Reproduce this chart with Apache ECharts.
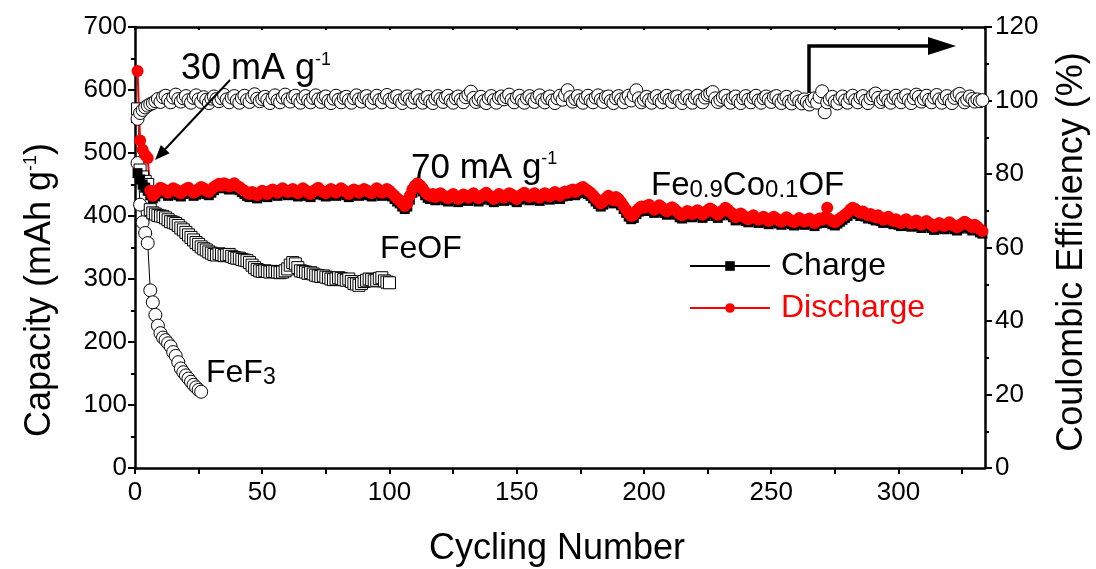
<!DOCTYPE html>
<html><head><meta charset="utf-8">
<script src="https://cdn.jsdelivr.net/npm/echarts@6/dist/echarts.min.js"></script>
<style>html,body{margin:0;padding:0;background:#fff}#c{width:1096px;height:569px}</style>
</head><body><div id="c"></div>
<script>
// Fe0.9Co0.1OF discharge capacity (mAh/g), cycles 1..333
const discharge = [
630,520,505,497,492,440,432,436,441,445,
443,440,437,441,444,442,438,436,440,443,
445,441,437,439,443,446,444,440,438,442,
446,449,451,448,452,450,447,449,452,448,
446,443,440,437,435,438,436,433,437,440,
438,435,439,442,440,437,441,444,441,438,
440,443,439,436,440,444,441,437,435,439,
442,445,441,438,436,440,443,440,437,441,
444,441,438,435,439,442,440,437,440,443,
441,438,436,440,444,441,437,439,443,440,
436,432,428,425,420,416,420,432,442,448,
452,449,444,438,434,432,435,430,433,436,
433,430,428,432,435,431,427,430,434,432,
429,433,436,432,428,431,434,437,433,430,
427,431,435,432,429,433,436,434,430,427,
431,434,437,433,430,433,436,432,429,433,
436,434,431,435,438,435,432,436,439,437,
440,442,438,441,444,446,443,440,437,433,
428,424,420,423,428,432,429,425,430,427,
422,416,410,404,400,402,408,412,415,413,
416,418,414,410,413,417,414,410,407,411,
414,411,407,403,401,404,408,406,403,406,
409,406,402,405,409,412,409,405,402,406,
409,413,410,406,403,398,400,404,401,397,
395,398,401,397,394,396,399,395,392,396,
399,396,393,391,394,398,395,392,390,393,
397,394,391,393,396,392,389,393,396,394,
398,413,395,392,390,393,396,399,402,405,
410,413,411,408,405,407,404,401,403,400,
398,401,397,394,397,399,395,392,395,391,
389,392,395,391,388,390,393,389,386,389,
392,389,386,383,386,389,386,384,387,390,
387,384,382,385,388,391,388,385,382,386,
383,379,376
];
// Fe0.9Co0.1OF charge capacity (mAh/g), cycles 1..333
const charge = [
468,458,450,445,440,433,428,431,436,440,
439,436,432,436,440,438,433,431,435,439,
441,437,432,434,438,442,440,435,433,437,
441,445,447,444,447,446,442,444,447,444,
441,438,435,432,430,433,431,428,432,435,
433,430,434,437,435,432,436,439,436,433,
435,438,434,431,435,439,436,432,430,434,
437,440,436,433,431,435,438,435,432,436,
439,436,433,430,434,437,435,432,435,438,
436,433,431,435,439,436,432,434,438,435,
431,427,423,420,415,411,415,426,437,443,
447,444,439,433,429,427,430,425,428,431,
428,425,423,427,430,426,422,425,429,427,
424,428,431,427,423,426,429,432,428,425,
422,426,430,427,424,428,431,429,425,422,
426,429,432,428,425,428,431,427,424,428,
431,429,426,430,433,430,427,431,434,432,
435,437,433,436,439,441,438,435,432,428,
423,419,415,418,423,427,424,420,425,422,
417,411,405,399,395,397,403,407,410,408,
411,413,409,405,408,412,409,405,402,406,
409,406,402,398,396,399,403,401,398,401,
404,401,397,400,404,407,404,400,397,401,
404,408,405,401,398,393,395,399,396,392,
390,393,396,392,389,391,394,390,387,391,
394,391,388,386,389,393,390,387,385,388,
392,389,386,388,391,387,384,388,391,389,
393,396,390,387,385,388,391,394,397,400,
405,408,406,403,400,402,399,396,398,395,
393,396,392,389,392,394,390,387,390,386,
384,387,390,386,383,385,388,384,381,384,
387,384,381,378,381,384,381,379,382,385,
382,379,377,380,383,386,383,380,377,381,
378,374,372
];
// Coulombic efficiency (%), cycles 1..333
const efficiency = [
95.0,96.6,97.4,98.1,98.6,99.0,99.3,99.8,100.4,99.6,
100.9,101.3,100.2,99.5,100.8,101.6,100.4,99.7,100.6,101.2,
100.1,99.4,100.7,101.4,100.3,99.6,100.9,100.2,99.3,100.5,
101.1,100.4,99.8,100.6,101.5,100.3,99.5,100.8,101.2,100.0,
99.4,100.7,101.3,100.1,99.6,100.9,101.7,100.5,99.8,100.4,
101.0,100.2,99.3,100.6,101.4,100.0,99.5,100.8,101.6,100.3,
99.7,100.9,101.3,100.1,99.4,100.6,101.2,100.0,99.5,100.7,
101.4,100.3,99.6,100.8,101.1,99.9,99.3,100.5,101.3,100.2,
99.5,100.7,101.0,100.1,99.4,100.6,101.4,100.3,99.7,100.9,
101.2,100.0,99.4,100.6,101.3,100.1,99.5,100.8,101.5,100.2,
99.6,100.9,101.2,100.0,99.3,100.5,101.1,100.3,99.5,100.7,
101.4,100.1,99.4,100.6,101.0,99.8,99.3,100.5,101.2,100.4,
99.6,100.8,101.3,100.0,99.4,100.6,101.1,100.2,99.5,100.9,
101.6,102.4,100.7,99.6,100.3,101.0,99.8,99.3,100.6,101.2,
100.1,99.4,100.7,101.1,100.3,100.9,101.6,100.2,99.5,100.8,
101.3,100.0,99.4,100.6,101.2,100.3,99.6,100.9,101.4,100.1,
99.5,100.7,101.1,100.0,99.3,100.6,101.3,100.2,101.5,102.8,
100.9,99.7,100.4,101.2,100.1,99.4,100.7,101.3,100.0,99.5,
100.8,101.4,100.2,99.6,100.9,101.1,99.9,99.3,100.6,101.2,
100.3,99.5,100.7,101.3,100.0,101.4,102.8,100.6,99.5,100.2,
101.0,100.1,99.4,100.7,101.2,100.0,99.5,100.8,101.3,100.2,
99.6,100.9,101.1,99.9,99.3,100.6,101.2,100.1,99.4,100.7,
101.3,100.0,99.5,100.8,101.5,101.9,102.3,100.6,99.6,100.2,
100.9,101.3,100.0,99.4,100.7,101.1,99.9,99.3,100.6,101.2,
100.2,99.5,100.8,101.3,100.0,99.4,100.6,101.1,100.3,99.6,
100.9,101.2,100.0,99.3,100.5,101.0,99.7,99.2,100.4,100.9,
99.8,99.2,100.3,99.6,98.9,99.9,100.6,99.4,101.0,102.5,
96.8,99.5,100.3,101.0,99.7,99.2,100.5,101.1,100.0,99.4,
100.7,101.3,100.1,99.5,100.8,101.2,99.9,99.3,100.6,101.4,
101.9,100.7,99.6,100.3,101.1,100.0,99.4,100.7,101.3,100.2,
99.5,100.9,101.4,100.1,99.3,100.6,101.6,101.0,99.7,100.4,
101.3,100.2,99.5,100.8,101.5,100.3,99.4,100.6,101.2,100.0,
99.3,100.7,101.4,101.8,100.6,99.5,100.2,101.1,100.4,99.7,
100.3,99.8,100.1
];
// FeOF capacity (mAh/g), cycles 1..100
const feof = [
570,473,462,455,450,410,405,403,401,400,
399,397,394,391,390,388,385,381,378,374,
370,366,362,358,355,351,348,346,343,341,
339,338,340,339,337,338,339,336,334,333,
333,331,330,329,326,322,318,315,313,312,
313,312,311,312,312,311,310,311,313,316,
322,326,324,318,313,312,311,309,310,308,
306,305,304,305,303,302,300,299,300,302,
301,299,298,300,296,293,292,290,293,296,
298,300,299,297,298,301,302,297,295,294
];
// FeF3 capacity (mAh/g), cycles 1..26
const fef3 = [
484,418,390,373,357,282,263,243,226,214,
207,203,198,193,184,178,168,158,152,147,
142,137,132,128,124,121
];
const xLabelStep = 50;
const capTicks = [0, 700, 100];
const ceTicks = [0, 120, 20];

const FONT = '"Liberation Sans", Arial, Helvetica, sans-serif';
const pairs = a => a.map((v, i) => [i + 1, v]);
const chart = echarts.init(document.getElementById('c'));

const axisBase = {
  axisLine: { show: true, onZero: false, lineStyle: { color: '#000', width: 2.5 } },
  splitLine: { show: false },
  axisLabel: { color: '#000', fontSize: 26, fontFamily: FONT },
};

const annoText = (x, y, text, rich, extra) => Object.assign({
  type: 'text', x: x, y: y, z: 100,
  style: { text: text, rich: rich, fill: '#000', font: '36px ' + FONT, align: 'left', verticalAlign: 'middle' }
}, extra || {});

function arrow(x1, y1, x2, y2, hl, hw, lw) {
  const dx = x2 - x1, dy = y2 - y1, L = Math.hypot(dx, dy);
  const ux = dx / L, uy = dy / L, nx = -uy, ny = ux;
  const bx = x2 - ux * hl, by = y2 - uy * hl;
  return [
    { type: 'line', z: 100, shape: { x1: x1, y1: y1, x2: bx + ux * 2, y2: by + uy * 2 }, style: { stroke: '#000', lineWidth: lw } },
    { type: 'polygon', z: 100, shape: { points: [[x2, y2], [bx + nx * hw, by + ny * hw], [bx - nx * hw, by - ny * hw]] }, style: { fill: '#000' } }
  ];
}

const option = {
  animation: false,
  backgroundColor: '#fff',
  grid: { left: 135, right: 111, top: 27, bottom: 101 },
  legend: {
    data: [
      { name: 'Charge', textStyle: { color: '#000' } },
      { name: 'Discharge', textStyle: { color: '#ff0000' } }
    ],
    orient: 'vertical', left: 684, top: 245,
    itemWidth: 80, itemHeight: 12, itemGap: 10,
    textStyle: { fontSize: 32, fontFamily: FONT, padding: [0, 0, 0, 6] },
    selectedMode: false
  },
  xAxis: [
    Object.assign({}, axisBase, {
      type: 'value', position: 'bottom', min: 0, max: 334, interval: 25,
      axisTick: { show: true, inside: false, length: 6, lineStyle: { color: '#000', width: 2 } },
      axisLabel: Object.assign({}, axisBase.axisLabel, {
        margin: 12, showMaxLabel: false,
        formatter: v => (v % xLabelStep === 0 && v <= 300) ? String(v) : ''
      })
    }),
    Object.assign({}, axisBase, {
      type: 'value', position: 'top', min: 0, max: 334, interval: 25,
      axisTick: { show: true, inside: true, length: 3, lineStyle: { color: '#000', width: 2 } },
      axisLabel: { show: false }
    })
  ],
  yAxis: [
    Object.assign({}, axisBase, {
      type: 'value', position: 'left', min: capTicks[0], max: capTicks[1], interval: capTicks[2],
      axisTick: { show: true, inside: false, length: 7, lineStyle: { color: '#000', width: 2 } },
      minorTick: { show: true, splitNumber: 2, length: 4, lineStyle: { color: '#000', width: 2 } },
      axisLabel: Object.assign({}, axisBase.axisLabel, { margin: 8 })
    }),
    Object.assign({}, axisBase, {
      type: 'value', position: 'right', min: ceTicks[0], max: ceTicks[1], interval: ceTicks[2],
      axisTick: { show: true, inside: false, length: 7, lineStyle: { color: '#000', width: 2 } },
      minorTick: { show: true, splitNumber: 2, length: 4, lineStyle: { color: '#000', width: 2 } },
      axisLabel: Object.assign({}, axisBase.axisLabel, { margin: 10 })
    })
  ],
  series: [
    { name: 'FeF3', type: 'line', xAxisIndex: 0, yAxisIndex: 0, data: pairs(fef3),
      symbol: 'circle', symbolSize: 13, showAllSymbol: true,
      lineStyle: { color: '#000', width: 1 },
      itemStyle: { color: '#fff', borderColor: '#000', borderWidth: 1 } },
    { name: 'FeOF', type: 'line', xAxisIndex: 0, yAxisIndex: 0, data: pairs(feof),
      symbol: 'rect', symbolSize: 12, showAllSymbol: true,
      lineStyle: { color: '#444', width: 1 },
      itemStyle: { color: '#fff', borderColor: '#000', borderWidth: 1 } },
    { name: 'CE', type: 'line', xAxisIndex: 0, yAxisIndex: 1, data: pairs(efficiency),
      symbol: 'circle', symbolSize: 13, showAllSymbol: true,
      lineStyle: { color: '#000', width: 1 },
      itemStyle: { color: '#fff', borderColor: '#000', borderWidth: 1 } },
    { name: 'Charge', type: 'line', xAxisIndex: 0, yAxisIndex: 0, data: pairs(charge),
      symbol: 'rect', symbolSize: 10, showAllSymbol: true,
      lineStyle: { color: '#000', width: 1.5 },
      itemStyle: { color: '#000' } },
    { name: 'Discharge', type: 'line', xAxisIndex: 0, yAxisIndex: 0, data: pairs(discharge),
      symbol: 'circle', symbolSize: 12, showAllSymbol: true,
      lineStyle: { color: '#ff0000', width: 2 },
      itemStyle: { color: '#ff0000' } }
  ],
  graphic: [
    annoText(40, 290, '{a|Capacity (mAh g}{s|-1}{a|)}', {
      a: { fontSize: 36, fontFamily: FONT, verticalAlign: 'bottom' },
      s: { fontSize: 18, fontFamily: FONT, verticalAlign: 'top' }
    }, { rotation: Math.PI / 2 }),
    annoText(1072, 252, 'Coulombic Efficiency (%)', null, { rotation: Math.PI / 2 }),
    annoText(557, 549, 'Cycling Number', null),
    annoText(181, 69, '{a|30 mA g}{s|-1}', {
      a: { fontSize: 36, fontFamily: FONT, verticalAlign: 'bottom' },
      s: { fontSize: 18, fontFamily: FONT, verticalAlign: 'top' }
    }),
    annoText(411, 168, '{a|70 mA g}{s|-1}', {
      a: { fontSize: 35, fontFamily: FONT, verticalAlign: 'bottom' },
      s: { fontSize: 18, fontFamily: FONT, verticalAlign: 'top' }
    }),
    annoText(651, 186, '{a|Fe}{b|0.9}{a|Co}{b|0.1}{a|OF}', {
      a: { fontSize: 33, fontFamily: FONT, verticalAlign: 'bottom' },
      b: { fontSize: 24, fontFamily: FONT, verticalAlign: 'bottom' }
    }),
    annoText(380, 249, 'FeOF', null, { style: { text: 'FeOF', fill: '#000', font: '32px ' + FONT, align: 'left', verticalAlign: 'middle' } }),
    annoText(206, 373, '{a|FeF}{b|3}', {
      a: { fontSize: 32, fontFamily: FONT, verticalAlign: 'bottom' },
      b: { fontSize: 23, fontFamily: FONT, verticalAlign: 'bottom' }
    }),
    ...arrow(230, 80, 155, 160, 15, 6, 2),
    { type: 'polyline', z: 100, shape: { points: [[809, 93], [809, 46], [932, 46]] }, style: { stroke: '#000', lineWidth: 3.5, fill: null } },
    { type: 'polygon', z: 100, shape: { points: [[928, 37], [956, 46], [928, 55]] }, style: { fill: '#000' } }
  ]
};
option.graphic[0].style.align = 'center';
option.graphic[1].style.align = 'center';
option.graphic[2].style.align = 'center';
chart.setOption(option);
</script>
</body></html>
